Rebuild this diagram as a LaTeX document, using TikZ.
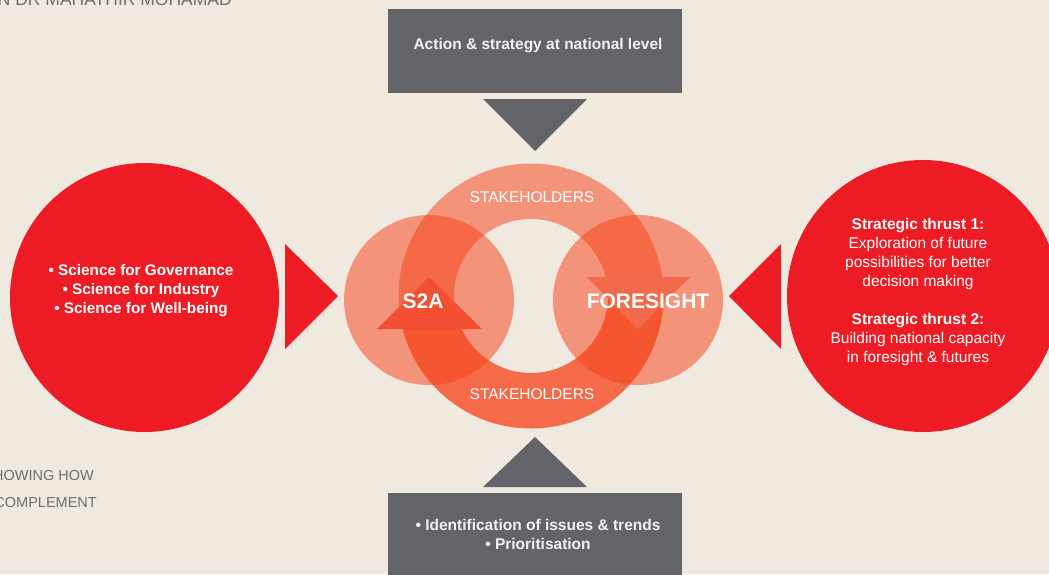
\documentclass[tikz,border=0pt]{standalone}
\usepackage{fontspec}
\setmainfont{Liberation Sans}
\definecolor{bgc}{RGB}{240,233,224}
\definecolor{redc}{RGB}{237,28,36}
\definecolor{grayc}{RGB}{99,100,104}
\definecolor{ringc}{RGB}{247,64,22}
\definecolor{arrA}{RGB}{242,78,50}
\definecolor{arrF}{RGB}{243,105,76}
\definecolor{txtgray}{RGB}{110,110,112}
\definecolor{boxtxt}{RGB}{242,242,242}
\begin{document}
\begin{tikzpicture}[x=1pt,y=-1pt,
  bigred/.style={fill=redc},
  grayfill/.style={fill=grayc},
  ringfill/.style={fill=ringc},
  boxlabel/.style={text=boxtxt,font=\bfseries\fontsize{15.5}{19}\selectfont,align=center,inner sep=0pt},
  circlabel/.style={text=white,font=\fontsize{15.5}{19}\selectfont,align=center,inner sep=0pt},
  biglabel/.style={text=white,font=\bfseries\fontsize{21}{24}\selectfont,inner sep=0pt},
  stake/.style={text=white,font=\fontsize{15.5}{18}\selectfont,inner sep=0pt},
  sidetext/.style={text=txtgray,font=\fontsize{14.5}{17}\selectfont,inner sep=0pt}]
\useasboundingbox[fill=bgc] (0,0) rectangle (1049,574);

% side texts (cut by page edge, as in the source)
\node[sidetext,anchor=base east,font=\fontsize{17.5}{20}\selectfont] (toptxt) at (232,5.5) {N DR MAHATHIR MOHAMAD};
\node[sidetext,anchor=base east] (howtxt) at (94,480) {HOWING HOW};
\node[sidetext,anchor=base east] (comptxt) at (97,507) {COMPLEMENT};

% big red circles
\fill[bigred] (144.5,297.5) circle[radius=134.5pt];
\fill[bigred] (923,296) circle[radius=136pt];

% red pointer triangles
\fill[bigred] (285,244) -- (285,349) -- (338,296) -- cycle;
\fill[bigred] (781,244) -- (781,349) -- (729,296) -- cycle;

% gray boxes and triangles
\fill[grayfill] (388,9) rectangle (682,92.5);
\fill[grayfill] (483,99) -- (587,99) -- (535,151) -- cycle;
\fill[grayfill] (483,487) -- (587,487) -- (535,437) -- cycle;
\fill[grayfill] (388,493) rectangle (682,580);

% small circles
\fill[ringfill,fill opacity=0.5] (429,300) circle[radius=85pt];
\fill[ringfill,fill opacity=0.5] (638,300) circle[radius=85pt];

% top band
\begin{scope}
\clip (370,140) -- (700,140) -- (700,277) -- (531,277) -- (531,329) -- (370,329) -- cycle;
\fill[ringfill,fill opacity=0.5,even odd rule] (531,296) circle[radius=132.5pt] (531,296) circle[radius=77pt];
\end{scope}
% bottom band
\begin{scope}
\clip (370,329) -- (531,329) -- (531,277) -- (700,277) -- (700,450) -- (370,450) -- cycle;
\fill[ringfill,fill opacity=0.75,even odd rule] (531,296) circle[radius=132.5pt] (531,296) circle[radius=77pt];
\end{scope}

% arrowheads
\fill[arrA] (377,329) -- (482,329) -- (429,277) -- cycle;
\fill[arrF] (587,277) -- (690,277) -- (638,329) -- cycle;

% labels
\node[boxlabel] (top) at (538,46) {Action \& strategy at national level};
\node[boxlabel] (bottom) at (538,534.5) {• Identification of issues \& trends\\• Prioritisation};
\node[circlabel,font=\bfseries\fontsize{15.3}{19}\selectfont] (left) at (141,291) {• Science for Governance\\• Science for Industry\\• Science for Well-being};
\node[circlabel] (right) at (918,292) {\textbf{Strategic thrust 1:}\\Exploration of future\\possibilities for better\\decision making\\[19pt]\textbf{Strategic thrust 2:}\\Building national capacity\\in foresight \& futures};
\node[biglabel] (s2a) at (423,301) {S2A};
\node[biglabel] (fore) at (648,301) {FORESIGHT};
\node[stake] (stk1) at (532,197) {STAKEHOLDERS};
\node[stake] (stk2) at (532,394) {STAKEHOLDERS};
\end{tikzpicture}
\end{document}
